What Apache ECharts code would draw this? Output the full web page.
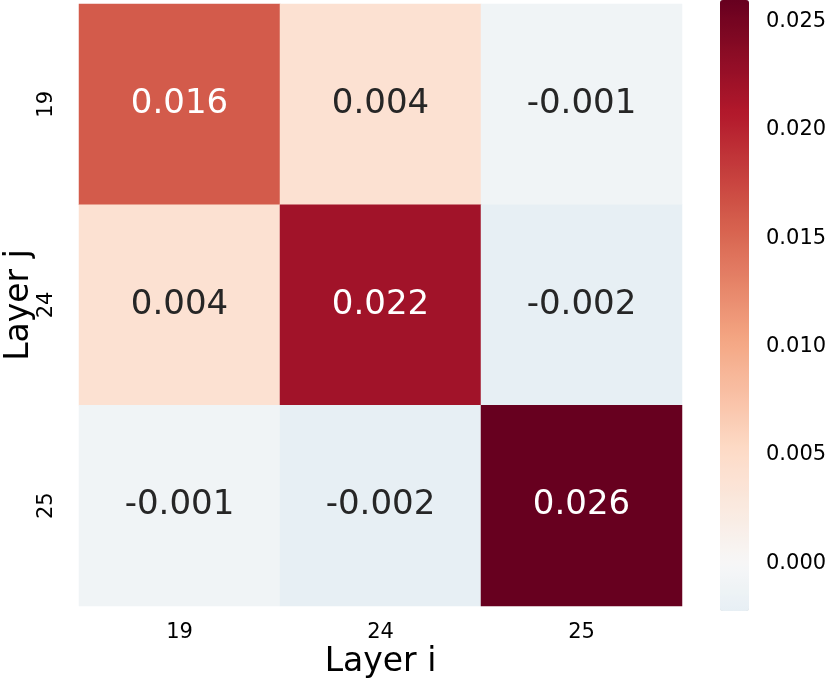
<!DOCTYPE html>
<html>
<head>
<meta charset="utf-8">
<script src="https://cdn.jsdelivr.net/npm/echarts@6/dist/echarts.min.js"></script>
<style>
  html, body { margin: 0; padding: 0; background: #fff; }
  #chart { width: 830px; height: 686px; }
</style>
</head>
<body>
<div id="chart"></div>
<script>
// layers on each axis
const layersI = ['19', '24', '25'];
const layersJ = ['19', '24', '25'];
// rows = layer j, columns = layer i
const corrValues = [
  [0.016, 0.004, -0.001],
  [0.004, 0.022, -0.0022],
  [-0.001, -0.0022, 0.026]
];
const colorbarTicks = [0, 0.005, 0.01, 0.015, 0.02, 0.025];

// RdBu_r stops (matplotlib)
const rdbuR = ['#053061', '#2166ac', '#4393c3', '#92c5de', '#d1e5f0', '#f7f7f7',
  '#fddbc7', '#f4a582', '#d6604d', '#b2182b', '#67001f'];

const hexToRgb = h => [1, 3, 5].map(k => parseInt(h.slice(k, k + 2), 16));

function cmap(t) {
  t = Math.max(0, Math.min(1, t));
  const pos = t * (rdbuR.length - 1);
  const i0 = Math.min(Math.floor(pos), rdbuR.length - 2);
  const f = pos - i0;
  const a = hexToRgb(rdbuR[i0]), b = hexToRgb(rdbuR[i0 + 1]);
  return a.map((c, k) => Math.round(c + (b[k] - c) * f));
}

const flat = corrValues.flat();
const vmin = Math.min(...flat);
const vmax = Math.max(...flat);
// seaborn center=0: colormap spans +-vrange, only [vmin, vmax] part used
const vrange = Math.max(vmax, -vmin);
const colorAt = v => cmap(0.5 + v / (2 * vrange));
const rgbStr = c => `rgb(${c[0]},${c[1]},${c[2]})`;

function luminance(c) {
  const l = c.map(x => {
    x /= 255;
    return x <= 0.03928 ? x / 12.92 : Math.pow((x + 0.055) / 1.055, 2.4);
  });
  return 0.2126 * l[0] + 0.7152 * l[1] + 0.0722 * l[2];
}

const rangeColors = [];
for (let k = 0; k <= 60; k++) {
  rangeColors.push(rgbStr(colorAt(vmin + (vmax - vmin) * k / 60)));
}

const cells = [];
corrValues.forEach((row, j) => {
  row.forEach((v, i) => {
    cells.push({
      value: [i, j, v],
      label: { color: luminance(colorAt(v)) < 0.408 ? '#ffffff' : '#262626' }
    });
  });
});

const font = 'DejaVu Sans';
const chart = echarts.init(document.getElementById('chart'));

chart.setOption({
  animation: false,
  textStyle: { fontFamily: font },
  grid: [
    { left: 79, top: 4, width: 603, height: 602, outerBoundsMode: 'none', containLabel: false },
    { left: 720, top: 0, width: 29, height: 611, outerBoundsMode: 'none', containLabel: false }
  ],
  xAxis: [
    {
      type: 'category', gridIndex: 0, data: layersI,
      name: 'Layer i', nameLocation: 'middle', nameGap: 40, nameMoveOverlap: false,
      nameTextStyle: { fontSize: 33, color: '#000', fontFamily: font },
      axisLine: { show: false },
      axisTick: { alignWithLabel: true, length: 7, lineStyle: { color: '#000', width: 1 } },
      axisLabel: { fontSize: 21, color: '#000', margin: 16, fontFamily: font },
      splitLine: { show: false }
    },
    { type: 'value', gridIndex: 1, show: false, min: 0, max: 1 }
  ],
  yAxis: [
    {
      type: 'category', gridIndex: 0, data: layersJ, inverse: true,
      name: 'Layer j', nameLocation: 'middle', nameGap: 43, nameMoveOverlap: false,
      nameTextStyle: { fontSize: 33, color: '#000', fontFamily: font },
      axisLine: { show: false },
      axisTick: { alignWithLabel: true, length: 7, lineStyle: { color: '#000', width: 1 } },
      axisLabel: { fontSize: 21, color: '#000', rotate: 90, margin: 22, fontFamily: font },
      splitLine: { show: false }
    },
    {
      type: 'value', gridIndex: 1, position: 'right', min: vmin, max: vmax,
      axisLine: { show: false },
      axisTick: { show: true, length: 7, customValues: colorbarTicks, lineStyle: { color: '#000', width: 1 } },
      axisLabel: {
        fontSize: 21, color: '#000', margin: 17, fontFamily: font,
        customValues: colorbarTicks,
        formatter: v => v.toFixed(3)
      },
      splitLine: { show: false }
    }
  ],
  visualMap: {
    type: 'continuous', min: vmin, max: vmax, dimension: 2,
    seriesIndex: 0, calculable: false, show: true, text: null,
    left: 720, top: 0, itemWidth: 29, itemHeight: 611, padding: 0,
    inRange: { color: rangeColors },
    textStyle: { color: 'transparent' }
  },
  series: [{
    type: 'heatmap', xAxisIndex: 0, yAxisIndex: 0,
    data: cells,
    label: {
      show: true, fontSize: 34, fontFamily: font,
      formatter: p => p.value[2].toFixed(3)
    },
    emphasis: { disabled: true }
  }]
});
</script>
</body>
</html>
